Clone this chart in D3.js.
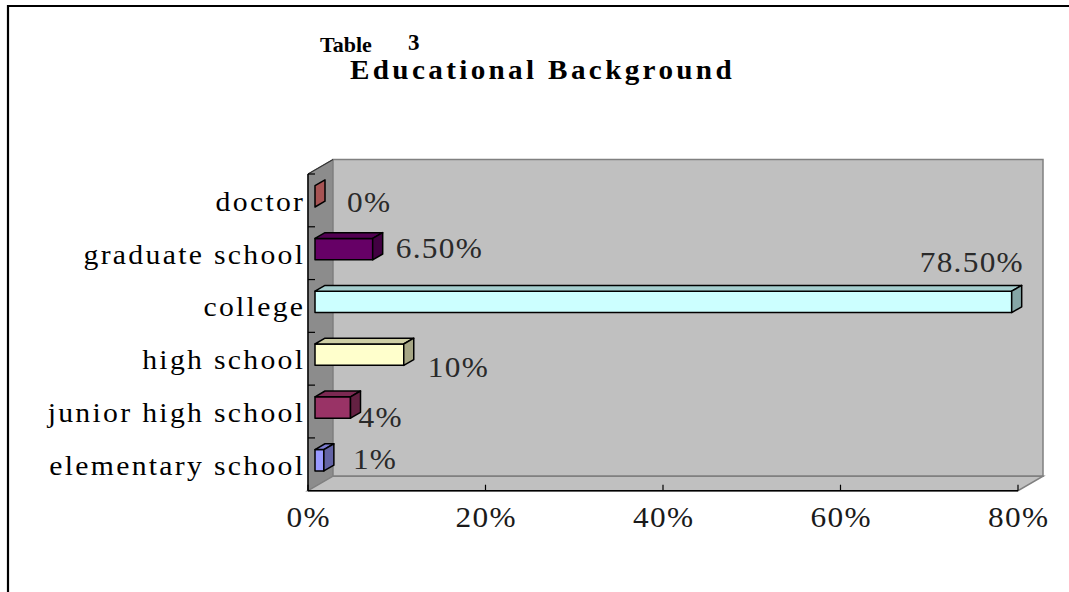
<!DOCTYPE html>
<html><head><meta charset="utf-8">
<script src="https://cdn.jsdelivr.net/npm/d3@7"></script>
<style>body{margin:0;background:#fff}svg{display:block}</style>
</head><body>
<svg id="chart" width="1069" height="592"></svg>
<script>
// Survey data: share of respondents by highest level of schooling
const categories = ["elementary school", "junior high school", "high school", "college", "graduate school", "doctor"];
const values = [1, 4, 10, 78.5, 6.5, 0];
const valueLabels = ["1%", "4%", "10%", "78.50%", "6.50%", "0%"];
const barColors = ["#9999FF", "#993366", "#FFFFCC", "#CCFFFF", "#660066", "#FF8080"];
const tickValues = [0, 20, 40, 60, 80];
const tickLabels = ["0%", "20%", "40%", "60%", "80%"];
// per-label placement tweaks: [dx from bar end, dy from band centre, anchor]
const labelNudge = [[19, -5, "start"], [-2, 5, "start"], [14, 8, "start"], [1, -44, "end"], [13, -5, "start"], [22, 2, "start"]];

const svg = d3.select("#chart");
const serif = "'Liberation Serif','Times New Roman',serif";

// text helper: widened glyphs through a horizontal scale
function wideText(sel, x, y, sx) {
  sel.attr("transform", `translate(${x},${y}) scale(${sx},1)`);
}

// outer frame (top and left edges)
svg.append("path").attr("d", "M8,592V6H1069").attr("fill", "none").attr("stroke", "#000").attr("stroke-width", 2.2);

// titles
svg.append("text").attr("x", 320).attr("y", 51.5).text("Table")
  .attr("font-family", serif).attr("font-weight", "bold").attr("font-size", 22).attr("fill", "#000");
svg.append("text").attr("x", 408).attr("y", 49.5).text("3")
  .attr("font-family", serif).attr("font-weight", "bold").attr("font-size", 23).attr("fill", "#000");
svg.append("text").text("Educational Background")
  .attr("font-family", serif).attr("font-weight", "bold").attr("font-size", 27)
  .attr("letter-spacing", 3.1).attr("fill", "#000")
  .call(wideText, 350, 78.5, 1.08);

// scales on the front plane
const x = d3.scaleLinear().domain([0, 80]).range([308, 1018]);
const y = d3.scaleBand().domain(categories).range([490.7, 174]).padding(0);
const bw = y.bandwidth();
const x0 = x(0), x1 = x(80), yTop = 174, yBot = 490.7;
// oblique depth vector of the 3D box
const dX = 25, dY = -14.5;
const f0 = 0.28, f1 = 0.68; // bar depth range as fraction of box depth

const g = svg.append("g");

// side wall
g.append("polygon")
  .attr("points", [[x0, yTop], [x0 + dX, yTop + dY], [x0 + dX, yBot + dY], [x0, yBot]].join(" "))
  .attr("fill", "#8c8c8c").attr("stroke", "#808080").attr("stroke-width", 1);
// back wall
g.append("rect").attr("x", x0 + dX).attr("y", yTop + dY).attr("width", x1 - x0).attr("height", yBot - yTop)
  .attr("fill", "#c0c0c0").attr("stroke", "#808080").attr("stroke-width", 1.5);
// floor
g.append("polygon")
  .attr("points", [[x0, yBot], [x0 + dX, yBot + dY], [x1 + dX, yBot + dY], [x1, yBot]].join(" "))
  .attr("fill", "#c0c0c0").attr("stroke", "#808080").attr("stroke-width", 1.5);
// side wall top edge
g.append("line").attr("x1", x0).attr("y1", yTop).attr("x2", x0 + dX).attr("y2", yTop + dY)
  .attr("stroke", "#333").attr("stroke-width", 1.2);

// axis lines
g.append("line").attr("x1", x0).attr("y1", yTop).attr("x2", x0).attr("y2", yBot).attr("stroke", "#000").attr("stroke-width", 1.5);
g.append("line").attr("x1", x0).attr("y1", yBot).attr("x2", x1).attr("y2", yBot).attr("stroke", "#000").attr("stroke-width", 1.5);

// category tick marks at band boundaries
g.selectAll(".ytick").data(categories.slice(1)).join("line")
  .attr("x1", x0).attr("x2", x0 + 7)
  .attr("y1", d => y(d) + bw).attr("y2", d => y(d) + bw)
  .attr("stroke", "#000").attr("stroke-width", 1.2);
g.append("line").attr("x1", x0).attr("x2", x0 + 7).attr("y1", yTop).attr("y2", yTop).attr("stroke", "#000").attr("stroke-width", 1.2);

// value ticks
g.selectAll(".xtick").data(tickValues).join("line")
  .attr("x1", d => x(d)).attr("x2", d => x(d)).attr("y1", yBot).attr("y2", yBot - 6)
  .attr("stroke", "#000").attr("stroke-width", 1.2);

// tick labels
const numSx = 1.08, numLs = 1.2;
g.selectAll(".xlab").data(tickValues).join("text")
  .attr("text-anchor", "middle").attr("font-family", serif).attr("font-size", 29)
  .attr("letter-spacing", numLs).attr("fill", "#1a1a1a")
  .each(function (d) { d3.select(this).call(wideText, x(d) + numLs * numSx / 2, 527, numSx); })
  .text((d, i) => tickLabels[i]);

// category labels
const catSx = 1.1, catLs = 2.1;
g.selectAll(".ylab").data(categories).join("text")
  .attr("text-anchor", "end").attr("font-family", serif).attr("font-size", 27)
  .attr("letter-spacing", catLs).attr("fill", "#000")
  .each(function (d) { d3.select(this).call(wideText, x0 - 5 + catLs * catSx, y(d) + bw / 2 + 10.5, catSx); })
  .text(d => d);

// 3D bars
const bh = bw * 0.405;
const ddx = (f1 - f0) * dX, ddy = (f1 - f0) * dY;
const stroke = s => s.attr("stroke", "#000").attr("stroke-width", 1.5).attr("stroke-linejoin", "round");
const bars = g.selectAll(".bar").data(categories).join("g");
bars.each(function (c, i) {
  const v = values[i];
  const col = d3.color(barColors[i]);
  const xs = x(0) + f0 * dX, xe = x(v) + f0 * dX;
  const yt = y(c) + (bw - bh) / 2 + f0 * dY;
  const sel = d3.select(this);
  if (xe - xs > 0.5) {
    sel.append("rect").attr("x", xs).attr("y", yt).attr("width", xe - xs).attr("height", bh)
      .attr("fill", col.formatHex()).call(stroke);
    sel.append("polygon")
      .attr("points", [[xs, yt], [xs + ddx, yt + ddy], [xe + ddx, yt + ddy], [xe, yt]].join(" "))
      .attr("fill", col.darker(0.6).formatHex()).call(stroke);
  }
  sel.append("polygon")
    .attr("points", [[xe, yt], [xe + ddx, yt + ddy], [xe + ddx, yt + bh + ddy], [xe, yt + bh]].join(" "))
    .attr("fill", col.darker(1.2).formatHex()).call(stroke);
});

// value labels
g.selectAll(".vlab").data(categories).join("text")
  .attr("text-anchor", (c, i) => labelNudge[i][2])
  .attr("font-family", serif).attr("font-size", 29)
  .attr("letter-spacing", numLs).attr("fill", "#2a2a2a")
  .each(function (c, i) {
    const n = labelNudge[i];
    const lx = x(values[i]) + f1 * dX + n[0] + (n[2] === "end" ? numLs * numSx : 0);
    d3.select(this).call(wideText, lx, y(c) + bw / 2 + n[1] + 10, numSx);
  })
  .text((c, i) => valueLabels[i]);
</script>
</body></html>
